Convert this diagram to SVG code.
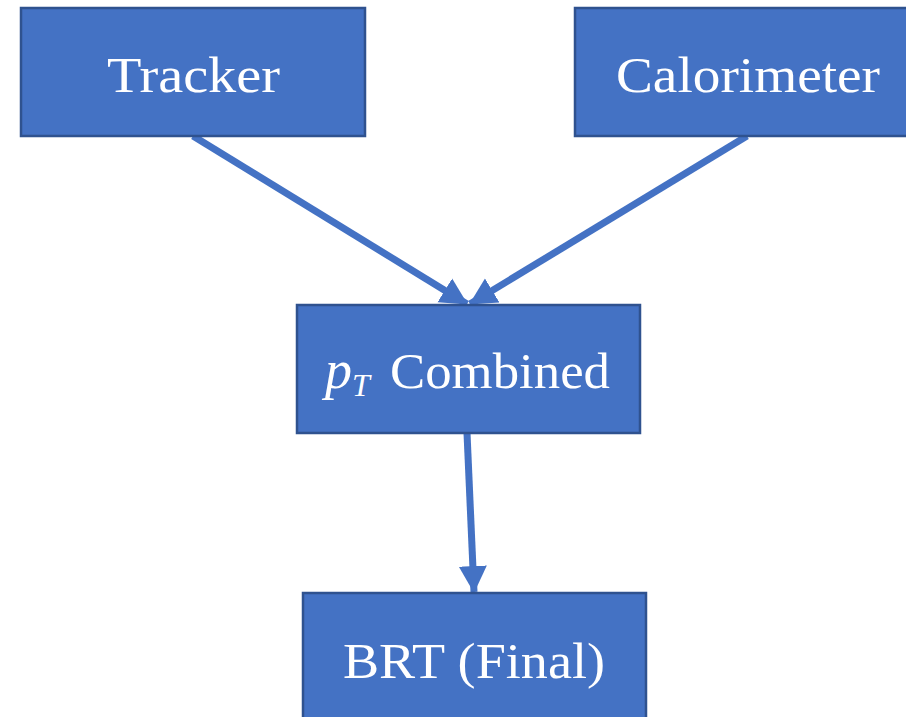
<svg xmlns="http://www.w3.org/2000/svg" width="906" height="717" viewBox="0 0 906 717">
<style>
.box{fill:#4472C4;stroke:#2F528F;stroke-width:2.5}
.lbl{fill:#ffffff;font-family:"Liberation Serif","DejaVu Serif",serif;font-size:50px}
.conn{stroke:#4472C4;stroke-width:7;fill:none}
</style>
<defs>
<marker id="ah" markerUnits="userSpaceOnUse" markerWidth="28" markerHeight="30" viewBox="0 0 28 30" refX="26" refY="15" orient="auto">
<path d="M0,1 L27,15 L0,29 Z" fill="#4472C4"/>
</marker>
</defs>
<g id="connectors">
<line class="conn" x1="193" y1="136" x2="467" y2="304" marker-end="url(#ah)"/>
<line class="conn" x1="747" y1="136" x2="470" y2="304" marker-end="url(#ah)"/>
<line class="conn" x1="467" y1="433" x2="474" y2="592" marker-end="url(#ah)"/>
</g>
<g id="tracker">
<rect class="box" x="21" y="8" width="344" height="128"/>
<text class="lbl" x="107" y="92" textLength="173" lengthAdjust="spacingAndGlyphs">Tracker</text>
</g>
<g id="calorimeter">
<rect class="box" x="575" y="8" width="333" height="128"/>
<text class="lbl" x="616" y="92" textLength="264" lengthAdjust="spacingAndGlyphs">Calorimeter</text>
</g>
<g id="combined">
<rect class="box" x="297" y="305" width="343" height="128"/>
<text class="lbl" x="325" y="388"><tspan font-style="italic" font-size="54">p</tspan><tspan font-style="italic" font-size="32" dy="8">T</tspan><tspan dy="-8" x="390" textLength="220" lengthAdjust="spacingAndGlyphs">Combined</tspan></text>
</g>
<g id="brt">
<rect class="box" x="303" y="593" width="343" height="130"/>
<text class="lbl" x="343" y="678" textLength="262" lengthAdjust="spacingAndGlyphs">BRT (Final)</text>
</g>
</svg>
